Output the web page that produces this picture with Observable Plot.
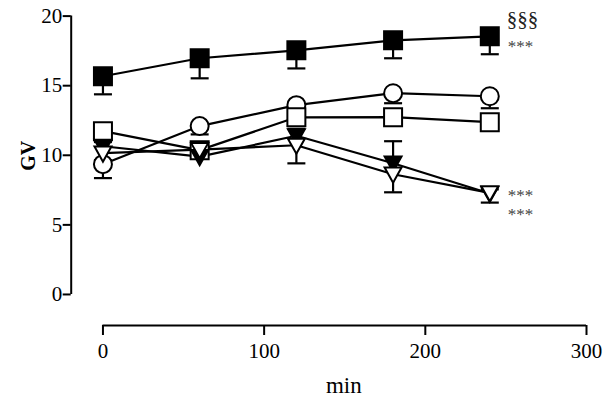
<!DOCTYPE html>
<html><head><meta charset="utf-8">
<script src="https://cdn.jsdelivr.net/npm/d3@7"></script>
<script src="https://cdn.jsdelivr.net/npm/@observablehq/plot@0.6"></script>
<style>html,body{margin:0;padding:0;background:#fff} svg{display:block}</style>
</head><body><div id="chart"></div>
<script>
// time points (min)
const minutes = [0, 60, 120, 180, 240];
// series means (GV)
const filledSquare   = [15.68, 16.97, 17.54, 18.26, 18.55];
const openCircle     = [9.36, 12.1, 13.6, 14.46, 14.24];
const openSquare     = [11.73, 10.37, 12.73, 12.74, 12.38];
const filledTriangle = [10.65, 9.9, 11.4, 9.43, 7.25];
const openTriangle   = [10.15, 10.4, 10.72, 8.64, 7.3];
// one-sided error bars (signed SEM)
const filledSquareErr   = [-1.3, -1.44, -1.3, -1.29, -1.29];
const openCircleErr     = [-1.0, -0.6, -0.3, -0.72, -0.86];
const openSquareErr     = [-0.7, -0.4, -0.4, -0.3, -0.3];
const filledTriangleErr = [0.3, 0.3, 0.5, 1.58, 0.3];
const openTriangleErr   = [-0.5, -0.4, -1.3, -1.3, -0.7];
// axis ticks
const xTicks = [0, 100, 200, 300];
const yTicks = [0, 5, 10, 15, 20];
// significance annotations at the last time point
const annotLabels = ["§§§", "***", "***", "***"];
const annotGV = [19.75, 17.78, 7.08, 5.71];
const annotMin = [240, 240, 240, 240];

const seriesDefs = [
  {name: "filledSquare", vals: filledSquare, errs: filledSquareErr, sym: "square", fill: "black"},
  {name: "openCircle", vals: openCircle, errs: openCircleErr, sym: "circle", fill: "white"},
  {name: "openSquare", vals: openSquare, errs: openSquareErr, sym: "square", fill: "white"},
  {name: "filledTriangle", vals: filledTriangle, errs: filledTriangleErr, sym: "tri", fill: "black"},
  {name: "openTriangle", vals: openTriangle, errs: openTriangleErr, sym: "tri", fill: "white"}
];
const rows = seriesDefs.flatMap(s => minutes.map((m, i) => ({series: s.name, min: m, gv: s.vals[i], err: s.errs[i]})));
const annots = annotLabels.map((t, i) => ({t, min: annotMin[i], gv: annotGV[i]}));
const sectionAnnots = annots.filter(d => d.t !== "***");
const starAnnots = annots.filter(d => d.t === "***");

const symbols = {
  square: {draw(ctx, size) { const r = Math.sqrt(size / Math.PI); ctx.rect(-r, -r, 2 * r, 2 * r); }},
  circle: {draw(ctx, size) { const r = Math.sqrt(size / Math.PI); ctx.moveTo(r, 0); ctx.arc(0, 0, r, 0, 2 * Math.PI); }},
  tri: {draw(ctx, size) { const r = Math.sqrt(size / Math.PI) * 0.94; ctx.moveTo(-r, -0.78 * r); ctx.lineTo(r, -0.78 * r); ctx.lineTo(0, r); ctx.closePath(); }}
};
const capSymbol = {draw(ctx, size) { const r = Math.sqrt(size / Math.PI); ctx.moveTo(-r, 0); ctx.lineTo(r, 0); }};

const xMin = -19.7, yMin = -2.23;

const chart = Plot.plot({
  width: 608,
  height: 416,
  marginLeft: 70.7,
  marginRight: 22,
  marginTop: 15.6,
  marginBottom: 91,
  x: {domain: [xMin, 300]},
  y: {domain: [yMin, 20]},
  style: {fontFamily: "'Liberation Serif', 'Times New Roman', serif", fontSize: "21px", color: "black", background: "white"},
  marks: [
    Plot.ruleX([xMin], {y1: 0, y2: 20, stroke: "black", strokeWidth: 2}),
    Plot.ruleY([yMin], {x1: 0, x2: 300, stroke: "black", strokeWidth: 2}),
    Plot.axisY({ticks: yTicks, tickSize: 8, tickPadding: 1, strokeWidth: 2, label: null, fontSize: 21}),
    Plot.axisX({ticks: xTicks, tickSize: 10, tickPadding: 8, strokeWidth: 2, label: null, fontSize: 21}),
    Plot.line(rows, {x: "min", y: "gv", z: "series", stroke: "black", strokeWidth: 2.2}),
    Plot.ruleX(rows, {x: "min", y1: "gv", y2: d => d.gv + d.err, stroke: "black", strokeWidth: 2.2}),
    Plot.dot(rows, {x: "min", y: d => d.gv + d.err, symbol: capSymbol, r: 9, stroke: "black", strokeWidth: 2.2}),
    ...seriesDefs.map(s => Plot.dot(rows.filter(d => d.series === s.name), {
      x: "min", y: "gv", symbol: symbols[s.sym], r: 9, fill: s.fill, stroke: "black", strokeWidth: 2
    })),
    Plot.text(sectionAnnots, {x: "min", y: "gv", text: "t", dx: 17, textAnchor: "start", fontSize: 21, fill: "#222"}),
    Plot.text(starAnnots, {x: "min", y: "gv", text: "t", dx: 18, textAnchor: "start", fontSize: 17, fill: "#444"}),
    Plot.text(["GV"], {frameAnchor: "left", dx: -43, dy: -15, rotate: -90, textAnchor: "middle", lineAnchor: "middle", fontWeight: "bold", fontSize: 20}),
    Plot.text(["min"], {frameAnchor: "bottom", dx: 15, dy: 60, textAnchor: "middle", lineAnchor: "middle", fontSize: 23})
  ]
});
document.getElementById("chart").appendChild(chart);
</script>
</body></html>
